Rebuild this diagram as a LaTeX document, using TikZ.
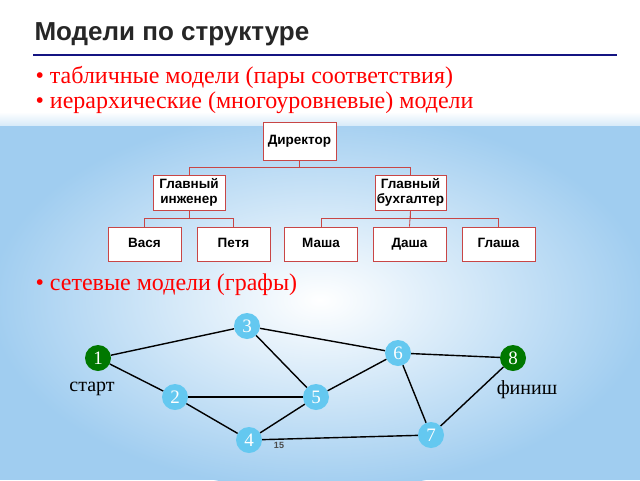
\documentclass[tikz,border=0pt]{standalone}
\usepackage{fontspec}
\setmainfont{Liberation Serif}
\setsansfont{Liberation Sans}
\usetikzlibrary{positioning}
\definecolor{bgblue}{RGB}{160,205,240}
\definecolor{titleblue}{RGB}{20,20,130}
\definecolor{boxred}{RGB}{200,70,70}
\definecolor{vblue}{RGB}{100,200,240}
\definecolor{vgreen}{RGB}{0,120,0}
\tikzset{
  orgbox/.style={draw=boxred, fill=white, line width=0.8pt, font=\sffamily\bfseries\fontsize{13.5}{15}\selectfont, align=center, inner sep=1pt},
  leafbox/.style={orgbox, minimum width=73pt, minimum height=34pt, text height=10pt, text depth=3pt},
  orgline/.style={draw=boxred, line width=0.8pt},
  vertex/.style={circle, fill=vblue, minimum size=26pt, inner sep=0pt, text=white, font=\fontsize{19}{19}\selectfont},
  endvertex/.style={vertex, fill=vgreen},
  edge/.style={line width=1.4pt, black},
  bulletline/.style={anchor=west, text=red, font=\fontsize{24}{26}\selectfont}
}
\begin{document}
\begin{tikzpicture}[x=1pt, y=-1pt]
    \useasboundingbox (0,0) rectangle (640,480);
    % background
    \fill[bgblue] (0,0) rectangle (640,480);
    \shade[inner color=white, outer color=bgblue] (320,300) ellipse (330 and 190);
    \fill[white] (0,0) rectangle (640,112);
    \shade[top color=white, bottom color=white!60!bgblue] (0,112) rectangle (640,125);

    % title and bullets
    \node (title) [anchor=west, font=\sffamily\bfseries\fontsize{26}{28}\selectfont, text=black!85] at (31,34) {Модели по структуре};
    \draw[titleblue, line width=2.2pt] (33,55) -- (617,55);
    \node (b1) [bulletline] at (32,77) {\textbullet\ табличные модели (пары соответствия)};
    \node (b2) [bulletline] at (32,103) {\textbullet\ иерархические (многоуровневые) модели};
    \node (b3) [bulletline] at (32,285) {\textbullet\ сетевые модели (графы)};

    % tree
    \node (dir) [orgbox, minimum width=73pt, minimum height=38pt] at (299.5,141) {Директор};
    \node (eng) [orgbox, minimum width=72pt, minimum height=35pt] at (189,192.5) {Главный\\инженер};
    \node (acc) [orgbox, minimum width=71pt, minimum height=35pt] at (410.5,192.5) {Главный\\бухгалтер};
    \foreach \name/\x/\txt in {vasya/144.5/Вася, petya/233.5/Петя, masha/321/Маша, dasha/409.5/Даша, glasha/498.5/Глаша}
      \node (\name) [leafbox] at (\x,244) {\txt};
    \draw[orgline] (dir.south) -- ++(0,7) -| (eng.north);
    \draw[orgline] (dir.south) -- ++(0,7) -| (acc.north);
    \draw[orgline] (eng.south) -- ++(0,8) -| (vasya.north);
    \draw[orgline] (eng.south) -- ++(0,8) -| (petya.north);
    \draw[orgline] (acc.south) -- ++(0,8) -| (masha.north);
    \draw[orgline] (acc.south) -- ++(0,8) -| (glasha.north);
    \draw[orgline] (acc.south) -- (dasha.north);

    % graph
    \node (n1) [endvertex] at (98,358) {1};
    \node (n3) [vertex] at (247,326) {3};
    \node (n6) [vertex] at (398,353) {6};
    \node (n8) [endvertex] at (513,358) {8};
    \node (n2) [vertex] at (175,397) {2};
    \node (n5) [vertex] at (316,397) {5};
    \node (n4) [vertex] at (249,440) {4};
    \node (n7) [vertex] at (431,435) {7};
    \node (start) [font=\fontsize{20}{20}\selectfont] at (92,389) {старт};
    \node (finish) [font=\fontsize{20}{20}\selectfont] at (527,390) {финиш};
    \node (page) [font=\sffamily\bfseries\fontsize{9}{9}\selectfont, text=black!70] at (279,445) {15};
    \foreach \a/\b in {n1/n3, n1/n2, n3/n6, n3/n5, n6/n8, n6/n5, n6/n7, n2/n5, n2/n4, n5/n4, n4/n7, n8/n7}
      \draw[edge] (\a) -- (\b);
\end{tikzpicture}
\end{document}
